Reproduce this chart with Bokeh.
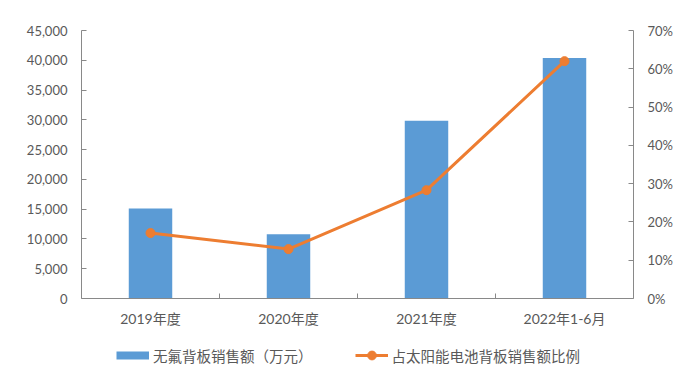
from bokeh.plotting import figure
from bokeh.layouts import column
from bokeh.models import (Range1d, LinearAxis, FixedTicker, SingleIntervalTicker,
                          NumeralTickFormatter, PrintfTickFormatter, Legend, LegendItem,
                          ColumnDataSource)
from bokeh.embed import file_html
from bokeh.resources import INLINE

categories = ["2019年度", "2020年度", "2021年度", "2022年1-6月"]
sales = [15100, 10800, 29850, 40400]          # 无氟背板销售额（万元）
ratio = [17.1, 12.9, 28.3, 62.0]              # 占太阳能电池背板销售额比例 (%)
series_names = ["无氟背板销售额（万元）", "占太阳能电池背板销售额比例"]
left_max = 45000
left_step = 5000
right_max = 70
right_step = 10

BLUE = "#5B9BD5"
ORANGE = "#ED7D31"
GREY_TXT = "#595959"
AXIS_CLR = "#898989"
NUM_FONT = "Lato"
CJK_FONT = "Noto Sans CJK SC"

x = [i + 0.5 for i in range(len(categories))]
src = ColumnDataSource(dict(x=x, sales=sales, ratio=ratio, cat=categories))

# ---------------- main chart ----------------
p = figure(width=680, height=330, output_backend="svg", toolbar_location=None,
           x_range=Range1d(0, len(categories)), y_range=Range1d(0, left_max),
           x_axis_location=None, y_axis_location=None,
           min_border_left=81, min_border_right=47, min_border_top=30, min_border_bottom=32)
p.extra_y_ranges = {"pct": Range1d(0, right_max)}
p.outline_line_color = None
p.xgrid.visible = False
p.ygrid.visible = False

p.vbar(x="x", top="sales", width=0.315, source=src, fill_color=BLUE, line_color=None)
p.line(x="x", y="ratio", source=src, y_range_name="pct", line_color=ORANGE, line_width=3)
p.scatter(x="x", y="ratio", source=src, y_range_name="pct", size=9,
          fill_color=ORANGE, line_color=ORANGE)

def style_axis(ax, font, size):
    ax.axis_line_color = AXIS_CLR
    ax.axis_line_width = 1
    ax.major_tick_line_color = AXIS_CLR
    ax.minor_tick_line_color = AXIS_CLR
    ax.major_label_text_color = GREY_TXT
    ax.major_label_text_font = font
    ax.major_label_text_font_size = size

yl = LinearAxis(ticker=SingleIntervalTicker(interval=left_step),
                formatter=NumeralTickFormatter(format="0,0"))
style_axis(yl, NUM_FONT, "13px")
yl.major_tick_in = 5
yl.major_tick_out = 0
yl.minor_tick_in = 0
yl.minor_tick_out = 0
yl.major_label_standoff = 14
p.add_layout(yl, "left")

yr = LinearAxis(y_range_name="pct", ticker=SingleIntervalTicker(interval=right_step),
                formatter=PrintfTickFormatter(format="%d%%"))
style_axis(yr, NUM_FONT, "13px")
yr.major_tick_in = 5
yr.major_tick_out = 0
yr.minor_tick_in = 0
yr.minor_tick_out = 0
yr.major_label_standoff = 14
p.add_layout(yr, "right")

xb = LinearAxis(ticker=FixedTicker(ticks=x, minor_ticks=list(range(1, len(categories)))),
                major_label_overrides={xi: c for xi, c in zip(x, categories)})
style_axis(xb, NUM_FONT + ", " + CJK_FONT, "14px")
xb.major_tick_in = 0
xb.major_tick_out = 0
xb.minor_tick_in = 5
xb.minor_tick_out = 0
xb.major_label_standoff = 11
p.add_layout(xb, "below")

# ---------------- legend strip ----------------
lf = figure(width=680, height=40, output_backend="svg", toolbar_location=None,
            x_range=Range1d(0, len(categories)), y_range=Range1d(0, left_max),
            x_axis_location=None, y_axis_location=None,
            min_border_left=81, min_border_right=47, min_border_top=0, min_border_bottom=0)
lf.extra_y_ranges = {"pct": Range1d(0, right_max)}
lf.outline_line_color = None
lf.xgrid.visible = False
lf.ygrid.visible = False
r_bar = lf.line(x="x", y="sales", source=src, line_color=BLUE, line_width=8, visible=False)
r_line = lf.line(x="x", y="ratio", source=src, y_range_name="pct",
                 line_color=ORANGE, line_width=3, visible=False)
r_pts = lf.scatter(x="x", y="ratio", source=src, y_range_name="pct", size=9,
                   fill_color=ORANGE, line_color=ORANGE, visible=False)

legend = Legend(items=[LegendItem(label=series_names[0], renderers=[r_bar]),
                       LegendItem(label=series_names[1], renderers=[r_line, r_pts])],
                orientation="horizontal", location=(35, 4))
legend.border_line_color = None
legend.background_fill_alpha = 0
legend.inactive_fill_alpha = 0
legend.glyph_width = 33
legend.glyph_height = 22
legend.label_standoff = 4
legend.spacing = 42
legend.padding = 0
legend.margin = 0
legend.label_text_font = CJK_FONT
legend.label_text_font_size = "14.5px"
legend.label_text_color = GREY_TXT
lf.add_layout(legend, "center")

layout = column(p, lf, spacing=0)
open("out.html", "w").write(file_html(layout, INLINE))
